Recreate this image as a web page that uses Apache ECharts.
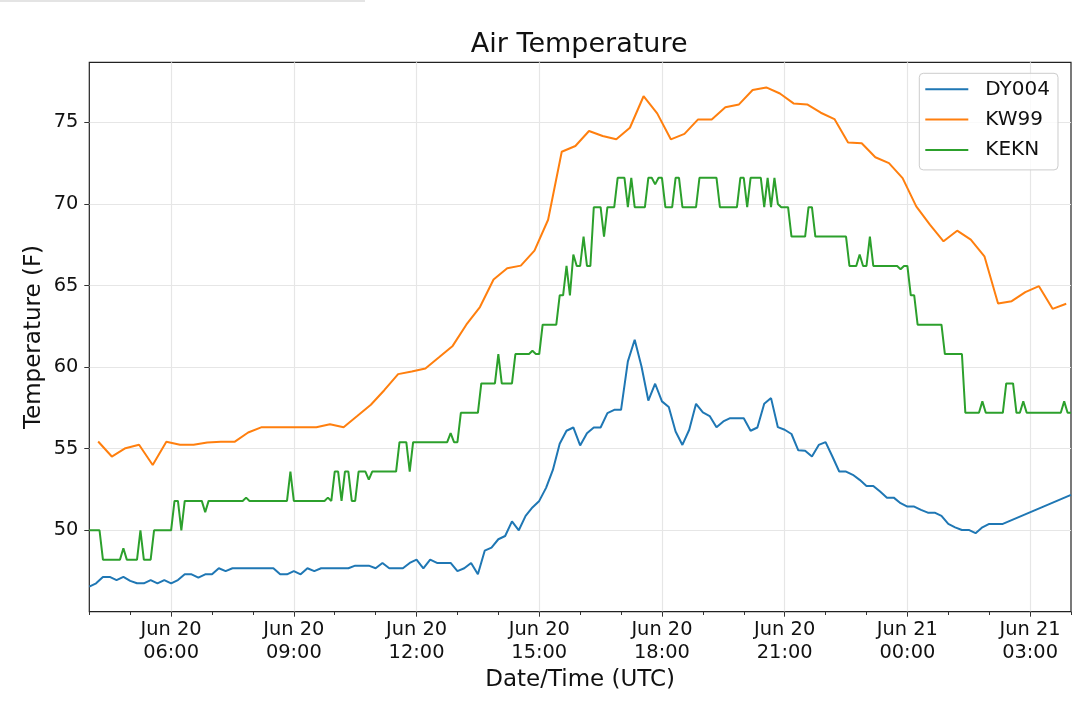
<!DOCTYPE html>
<html>
<head>
<meta charset="utf-8">
<script src="https://cdn.jsdelivr.net/npm/echarts@6/dist/echarts.min.js"></script>
<style>
html,body{margin:0;padding:0;background:#ffffff;}
#chart{width:1078px;height:710px;}
</style>
</head>
<body>
<div id="chart"></div>
<script>
// ---- data (x values are minutes since Jun 20 00:00 UTC) ----
const titleText = 'Air Temperature';
const xAxisTitle = 'Date/Time (UTC)';
const yAxisTitle = 'Temperature (F)';
const seriesNames = ['DY004', 'KW99', 'KEKN'];
const seriesColors = ['#1f77b4', '#ff7f0e', '#2ca02c'];

const xMinMinute = 240;    // Jun 20 04:00
const xMaxMinute = 1680;   // Jun 21 04:00
const xMajorFirst = 360;   // Jun 20 06:00
const xMajorLast = 1620;   // Jun 21 03:00
const yMin = 45.01;
const yMax = 78.68;
const yTickValues = [50, 55, 60, 65, 70, 75];

// DY004: 10-minute samples from 04:00, then one last report at 04:00 next day
const dy004Start = 240;
const dy004Step = 10;
const dy004Values = [
  46.55, 46.75, 47.14, 47.14, 46.95, 47.14, 46.9, 46.75, 46.75, 46.95,
  46.75, 46.95, 46.75, 46.95, 47.3, 47.3, 47.1, 47.3, 47.3, 47.67,
  47.5, 47.67, 47.67, 47.67, 47.67, 47.67, 47.67, 47.67, 47.3, 47.3,
  47.5, 47.3, 47.67, 47.5, 47.67, 47.67, 47.67, 47.67, 47.67, 47.83,
  47.83, 47.83, 47.67, 48.0, 47.67, 47.67, 47.67, 48.0, 48.2, 47.67,
  48.2, 48.0, 48.0, 48.0, 47.5, 47.67, 48.0, 47.3, 48.75, 48.94,
  49.45, 49.65, 50.55, 50.0, 50.88, 51.4, 51.8, 52.6, 53.7, 55.3,
  56.1, 56.3, 55.2, 55.95, 56.3, 56.3, 57.18, 57.38, 57.38, 60.35,
  61.68, 60.04, 57.95, 58.98, 57.9, 57.55, 56.05, 55.23, 56.16, 57.75,
  57.22, 57.0, 56.32, 56.67, 56.87, 56.87, 56.87, 56.1, 56.3, 57.75,
  58.1, 56.32, 56.16, 55.9, 54.9, 54.87, 54.52, 55.23, 55.4, 54.52,
  53.6, 53.6, 53.4, 53.09, 52.72, 52.72, 52.37, 52.0, 52.0, 51.66,
  51.45, 51.45, 51.25, 51.08, 51.08, 50.88, 50.39, 50.18, 50.02, 50.02,
  49.82, 50.18, 50.39, 50.39, 50.39
];
const dy004Tail = [1680, 52.17];

// KW99: 20-minute samples from 04:13
const kw99Start = 253;
const kw99Step = 20;
const kw99Values = [
  55.44, 54.52, 55.03, 55.24, 54.0, 55.42, 55.24, 55.24, 55.38, 55.42,
  55.42, 55.99, 56.32, 56.32, 56.32, 56.32, 56.32, 56.5, 56.32, 57.0,
  57.69, 58.6, 59.57, 59.73, 59.92, 60.6, 61.3, 62.6, 63.68, 65.37,
  66.06, 66.22, 67.14, 69.03, 73.2, 73.55, 74.47, 74.16, 73.96, 74.67,
  76.6, 75.55, 73.96, 74.29, 75.18, 75.18, 75.92, 76.1, 76.98, 77.14,
  76.77, 76.16, 76.1, 75.59, 75.2, 73.76, 73.72, 72.86, 72.5, 71.58,
  69.85, 68.73, 67.71, 68.36, 67.81, 66.79, 63.9, 64.04, 64.6, 64.96,
  63.57, 63.88
];

// KEKN: [minutes after 04:00, value] at the reports where the trace changes
const keknStart = 240;
const keknPoints = [
  [0,50],[15,50],[20,48.2],[45,48.2],[50,48.9],[55,48.2],[70,48.2],[75,50],[80,48.2],[90,48.2],
  [95,50],[120,50],[125,51.8],[130,51.8],[135,50],[140,51.8],[165,51.8],[170,51.1],[175,51.8],[225,51.8],
  [230,52.0],[235,51.8],[290,51.8],[295,53.6],[300,51.8],[345,51.8],[350,52.0],[355,51.8],[360,53.6],[365,53.6],
  [370,51.8],[375,53.6],[380,53.6],[385,51.8],[390,51.8],[395,53.6],[405,53.6],[410,53.1],[415,53.6],[450,53.6],
  [455,55.4],[465,55.4],[470,53.6],[475,55.4],[525,55.4],[530,55.95],[535,55.4],[540,55.4],[545,57.2],[570,57.2],
  [575,59],[595,59],[600,60.8],[605,59],[620,59],[625,60.8],[645,60.8],[650,61.0],[655,60.8],[660,60.8],
  [665,62.6],[685,62.6],[690,64.4],[695,64.4],[700,66.2],[705,64.4],[710,66.9],[715,66.2],[720,66.2],[725,68],
  [730,66.2],[735,66.2],[740,69.8],[750,69.8],[755,68],[760,69.8],[770,69.8],[775,71.6],[785,71.6],[790,69.8],
  [795,71.6],[800,69.8],[815,69.8],[820,71.6],[825,71.6],[830,71.2],[835,71.6],[840,71.6],[845,69.8],[855,69.8],
  [860,71.6],[865,71.6],[870,69.8],[890,69.8],[895,71.6],[920,71.6],[925,69.8],[950,69.8],[955,71.6],[960,71.6],
  [965,69.8],[970,71.6],[985,71.6],[990,69.8],[995,71.6],[1000,69.8],[1005,71.6],[1010,70.0],[1015,69.8],[1025,69.8],
  [1030,68],[1050,68],[1055,69.8],[1060,69.8],[1065,68],[1110,68],[1115,66.2],[1125,66.2],[1130,66.9],[1135,66.2],
  [1140,66.2],[1145,68],[1150,66.2],[1185,66.2],[1190,66.0],[1195,66.2],[1200,66.2],[1205,64.4],[1210,64.4],[1215,62.6],
  [1250,62.6],[1255,60.8],[1280,60.8],[1285,57.2],[1305,57.2],[1310,57.9],[1315,57.2],[1340,57.2],[1345,59],[1355,59],
  [1360,57.2],[1365,57.2],[1370,57.9],[1375,57.2],[1425,57.2],[1430,57.9],[1435,57.2],[1440,57.2]
];

// ---- build series data ----
const dy004Data = dy004Values.map((v, i) => [dy004Start + i * dy004Step, v]).concat([dy004Tail]);
const kw99Data = kw99Values.map((v, i) => [kw99Start + i * kw99Step, v]);
const keknData = keknPoints.map(p => [keknStart + p[0], p[1]]);

// ---- layout ----
const W = 1078, H = 710;
const plotLeft = 89.3, plotRight = 1071, plotTop = 62.3, plotBottom = 611.7;
const pxPerMin = (plotRight - plotLeft) / (xMaxMinute - xMinMinute);
const pxPerUnit = (plotBottom - plotTop) / (yMax - yMin);
const majorLeftPx = plotLeft + (xMajorFirst - xMinMinute) * pxPerMin;
const majorRightPx = plotLeft + (xMajorLast - xMinMinute) * pxPerMin;
const yTopPx = plotTop + (yMax - yTickValues[yTickValues.length - 1]) * pxPerUnit;
const yBotPx = plotTop + (yMax - yTickValues[0]) * pxPerUnit;

const FONT = '"DejaVu Sans", "Liberation Sans", sans-serif';
const TXT = '#111111';
const GRIDC = '#e6e6e6';
const TICKC = '#333333';

function timeLabel(m) {
  const day = m >= 1440 ? 'Jun 21' : 'Jun 20';
  const mm = m % 1440;
  const h = Math.floor(mm / 60);
  const mi = mm % 60;
  return day + '\n' + String(h).padStart(2, '0') + ':' + String(mi).padStart(2, '0');
}

const chart = echarts.init(document.getElementById('chart'), null, {renderer: 'canvas', width: W, height: H});

const option = {
  animation: false,
  backgroundColor: '#ffffff',
  textStyle: {fontFamily: FONT},
  graphic: [
    {type: 'rect', shape: {x: 0, y: 0, width: 365, height: 2}, style: {fill: '#e4e4e4'}, silent: true},
    {type: 'text', x: 579.2, y: 44.5, silent: true,
     style: {text: titleText, fontSize: 27, fontFamily: FONT, fill: TXT,
             align: 'center', verticalAlign: 'middle', textAlign: 'center', textVerticalAlign: 'middle'}}
  ],
  grid: [
    {left: plotLeft, right: W - plotRight, top: plotTop, bottom: H - plotBottom,
     show: true, borderColor: '#222222', borderWidth: 1.2, backgroundColor: 'transparent',
     containLabel: false, outerBoundsMode: 'none'},
    {left: majorLeftPx, right: W - majorRightPx, top: plotTop, bottom: H - plotBottom,
     containLabel: false, outerBoundsMode: 'none'},
    {left: plotLeft, right: W - plotRight, top: yTopPx, bottom: H - yBotPx,
     containLabel: false, outerBoundsMode: 'none'}
  ],
  xAxis: [
    {type: 'value', gridIndex: 0, min: xMinMinute, max: xMaxMinute, interval: 60,
     name: xAxisTitle, nameLocation: 'middle', nameGap: 57.2,
     nameTextStyle: {fontSize: 23, fontFamily: FONT, color: TXT, lineHeight: 23},
     axisLine: {show: false, onZero: false},
     axisTick: {show: true, length: 3.3, lineStyle: {color: TICKC, width: 1}},
     axisLabel: {show: false}, splitLine: {show: false}},
    {type: 'value', gridIndex: 1, min: xMajorFirst, max: xMajorLast, interval: 180,
     axisLine: {show: false, onZero: false},
     axisTick: {show: true, length: 5, lineStyle: {color: TICKC, width: 1}},
     axisLabel: {show: true, margin: 6.4, fontSize: 19.4, lineHeight: 23.3, color: TXT, fontFamily: FONT,
                 align: 'center', formatter: v => timeLabel(v)},
     splitLine: {show: true, lineStyle: {color: GRIDC, width: 1.2}}},
    {type: 'value', gridIndex: 2, show: false, min: 0, max: 1}
  ],
  yAxis: [
    {type: 'value', gridIndex: 0, min: yMin, max: yMax,
     name: yAxisTitle, nameLocation: 'middle', nameGap: 44, nameRotate: 90,
     nameTextStyle: {fontSize: 23, fontFamily: FONT, color: TXT, lineHeight: 23},
     axisLine: {show: false, onZero: false}, axisTick: {show: false},
     axisLabel: {show: false}, splitLine: {show: false}},
    {type: 'value', gridIndex: 1, show: false, min: 0, max: 1},
    {type: 'value', gridIndex: 2, min: yTickValues[0], max: yTickValues[yTickValues.length - 1], interval: 5,
     axisLine: {show: false, onZero: false},
     axisTick: {show: true, length: 5, lineStyle: {color: TICKC, width: 1}},
     axisLabel: {show: true, margin: 11, fontSize: 19.4, color: TXT, fontFamily: FONT,
                 formatter: v => String(v)},
     splitLine: {show: true, lineStyle: {color: GRIDC, width: 1.2}}}
  ],
  legend: {
    orient: 'vertical', left: 919.3, top: 73.3,
    padding: [6, 8, 10, 6],
    // 43px line followed by an invisible 12px spacer before the text
    icon: 'path://M0,0H43V2H0Z M55,2L55,2Z',
    itemWidth: 55, itemHeight: 2, itemGap: 10.3,
    backgroundColor: 'rgba(255,255,255,0.8)', borderColor: '#cccccc', borderWidth: 1, borderRadius: 4,
    textStyle: {fontSize: 20, fontFamily: FONT, color: TXT, lineHeight: 20},
    data: seriesNames.map((n, i) => ({name: n, itemStyle: {color: seriesColors[i], borderWidth: 0}}))
  },
  series: [
    {name: seriesNames[0], type: 'line', xAxisIndex: 0, yAxisIndex: 0, data: dy004Data,
     symbol: 'none', showSymbol: false, lineStyle: {color: seriesColors[0], width: 2},
     itemStyle: {color: seriesColors[0]}, clip: true},
    {name: seriesNames[1], type: 'line', xAxisIndex: 0, yAxisIndex: 0, data: kw99Data,
     symbol: 'none', showSymbol: false, lineStyle: {color: seriesColors[1], width: 2},
     itemStyle: {color: seriesColors[1]}, clip: true},
    {name: seriesNames[2], type: 'line', xAxisIndex: 0, yAxisIndex: 0, data: keknData,
     symbol: 'none', showSymbol: false, lineStyle: {color: seriesColors[2], width: 2},
     itemStyle: {color: seriesColors[2]}, clip: true}
  ]
};
chart.setOption(option);
</script>
</body>
</html>
